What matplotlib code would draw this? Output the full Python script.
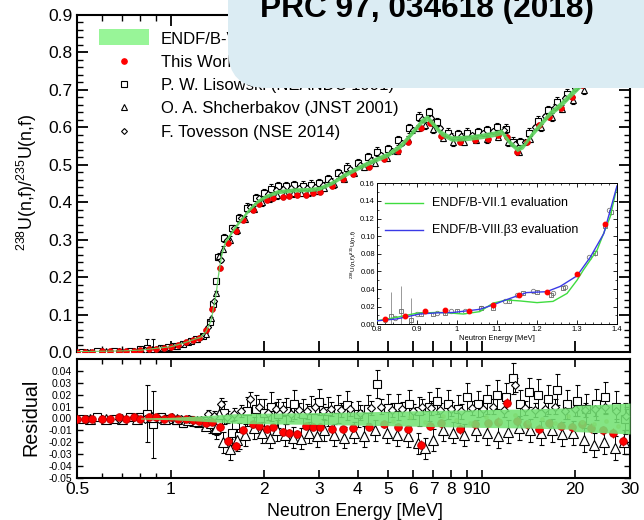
import numpy as np
import matplotlib
matplotlib.use('Agg')
import matplotlib.pyplot as plt
from matplotlib.patches import FancyBboxPatch, Rectangle
from matplotlib.lines import Line2D
from matplotlib.transforms import IdentityTransform
from matplotlib.ticker import (FixedLocator, FixedFormatter, MultipleLocator,
                               FormatStrFormatter, NullFormatter)

plt.rcParams['font.family'] = ['Liberation Sans', 'DejaVu Sans']
plt.rcParams['mathtext.fontset'] = 'custom'
plt.rcParams['mathtext.rm'] = 'Liberation Sans'
plt.rcParams['mathtext.it'] = 'Liberation Sans:italic'
plt.rcParams['mathtext.bf'] = 'Liberation Sans:bold'

# ---------------- data ----------------
# ENDF evaluation (band)
endf_E = [0.50, 0.60, 0.70, 0.80, 0.90, 1.00, 1.10, 1.20, 1.25, 1.30, 1.35, 1.40, 1.43, 1.46, 1.50,
          1.55, 1.60, 1.70, 1.80, 1.90, 2.00, 2.20, 2.50, 2.80, 3.00, 3.30, 3.60, 4.00, 4.50, 5.00,
          5.50, 6.00, 6.40, 6.70, 7.00, 7.40, 8.00, 9.00, 10.0, 11.0, 11.6, 12.3, 13.0, 13.6, 14.5,
          15.5, 16.5, 18.0, 19.0, 20.3, 22.0, 25.0, 28.0, 30.0]
endf_R = [0.001, 0.002, 0.003, 0.005, 0.010, 0.014, 0.024, 0.035, 0.040, 0.055, 0.085, 0.155, 0.215, 0.262, 0.295,
          0.312, 0.330, 0.358, 0.383, 0.402, 0.414, 0.428, 0.433, 0.434, 0.437, 0.452, 0.472, 0.492, 0.512, 0.528,
          0.552, 0.588, 0.616, 0.626, 0.608, 0.585, 0.570, 0.572, 0.577, 0.583, 0.588, 0.560, 0.542, 0.550, 0.582,
          0.610, 0.636, 0.662, 0.682, 0.706, 0.735, 0.770, 0.795, 0.810]
ENDF_REL_UNC = 0.013

# This Work
tw_E = [0.50, 0.53, 0.56, 0.60, 0.64, 0.68, 0.72, 0.76, 0.80, 0.85,
        0.90, 0.95, 1.00, 1.06, 1.12, 1.18, 1.23, 1.30, 1.36, 1.44,
        1.53, 1.62, 1.71, 1.84, 1.92, 2.04, 2.13, 2.29, 2.41, 2.55,
        2.72, 2.87, 3.02, 3.30, 3.59, 3.87, 4.34, 4.87, 5.40, 5.80,
        6.40, 6.80, 7.40, 8.50, 9.50, 10.5, 11.3, 12.1, 13.0, 14.0,
        15.3, 16.5, 18.0, 19.5, 21.0, 22.5, 24.5, 26.5, 28.4]
tw_R = [0.001, 0.001, 0.001, 0.002, 0.002, 0.003, 0.003, 0.004, 0.005, 0.007,
        0.009, 0.012, 0.014, 0.018, 0.026, 0.032, 0.037, 0.058, 0.115, 0.225,
        0.292, 0.323, 0.352, 0.380, 0.396, 0.405, 0.412, 0.415, 0.417, 0.418,
        0.420, 0.424, 0.428, 0.443, 0.462, 0.476, 0.495, 0.515, 0.538, 0.560,
        0.598, 0.612, 0.578, 0.562, 0.566, 0.570, 0.580, 0.575, 0.535, 0.562,
        0.605, 0.628, 0.652, 0.682, 0.712, 0.738, 0.758, 0.776, 0.788]
tw_res = [0.000, 0.000, 0.000, 0.000, 0.000, 0.001, 0.000, 0.001, 0.000, 0.001,
          0.001, 0.000, 0.001, 0.000, 0.000, -0.001, -0.002, -0.004, -0.003, -0.007,
          -0.019, -0.023, -0.010, -0.005, -0.006, -0.009, -0.007, -0.011, -0.012, -0.013,
          -0.006, -0.007, -0.007, -0.009, -0.009, -0.008, -0.007, -0.005, -0.007, -0.009,
          -0.022, -0.006, -0.004, -0.009, -0.005, -0.004, -0.003, 0.013, -0.002, -0.005,
          -0.009, -0.004, -0.006, -0.007, -0.005, -0.008, -0.010, -0.012, -0.019]
tw_err = [0.001, 0.001, 0.001, 0.001, 0.001, 0.001, 0.001, 0.001, 0.001, 0.001,
          0.001, 0.001, 0.001, 0.001, 0.001, 0.001, 0.001, 0.002, 0.002, 0.003,
          0.003, 0.003, 0.003, 0.003, 0.003, 0.003, 0.003, 0.003, 0.003, 0.003,
          0.003, 0.003, 0.003, 0.003, 0.003, 0.003, 0.003, 0.003, 0.003, 0.003,
          0.004, 0.004, 0.004, 0.004, 0.004, 0.004, 0.004, 0.004, 0.004, 0.004,
          0.004, 0.004, 0.004, 0.004, 0.004, 0.004, 0.004, 0.004, 0.004]

# P. W. Lisowski (squares)
sq_E = [0.52, 0.58, 0.66, 0.74, 0.80, 0.84, 0.88, 0.93, 0.98, 1.04,
        1.10, 1.16, 1.21, 1.27, 1.34, 1.37, 1.40, 1.42, 1.49, 1.58,
        1.66, 1.76, 1.88, 2.00, 2.10, 2.22, 2.35, 2.50, 2.66, 2.83,
        3.00, 3.20, 3.45, 3.70, 4.00, 4.30, 4.60, 5.00, 5.40, 5.85,
        6.30, 6.75, 7.20, 7.80, 8.40, 9.00, 9.70, 10.4, 11.2, 12.0,
        12.6, 13.3, 14.2, 15.2, 16.3, 17.5, 18.8, 20.2, 21.7, 23.3,
        25.0, 27.0, 29.0]
sq_R = [0.001, 0.002, 0.002, 0.004, 0.007, 0.012, 0.006, 0.011, 0.014, 0.017,
        0.022, 0.030, 0.035, 0.044, 0.080, 0.128, 0.190, 0.254, 0.305, 0.330,
        0.358, 0.385, 0.410, 0.425, 0.436, 0.442, 0.444, 0.446, 0.444, 0.447,
        0.452, 0.462, 0.478, 0.492, 0.505, 0.520, 0.535, 0.542, 0.565, 0.598,
        0.628, 0.640, 0.615, 0.585, 0.582, 0.586, 0.588, 0.592, 0.600, 0.596,
        0.562, 0.560, 0.585, 0.618, 0.645, 0.668, 0.690, 0.718, 0.745, 0.770,
        0.788, 0.805, 0.818]
sq_res = [0.000, 0.001, 0.000, 0.001, 0.001, 0.004, -0.005, 0.001, 0.000, -0.001,
          -0.004, -0.002, -0.003, -0.004, -0.006, -0.005, -0.010, -0.003, 0.005, -0.012,
          -0.015, 0.006, 0.008, 0.005, 0.010, 0.004, 0.006, 0.012, 0.004, 0.007,
          0.014, 0.006, 0.008, 0.011, 0.004, 0.008, 0.029, 0.009, 0.010, 0.012,
          0.006, 0.010, 0.015, 0.012, 0.008, 0.018, 0.012, 0.016, 0.020, 0.018,
          0.034, 0.012, 0.022, 0.020, 0.016, 0.024, 0.012, 0.015, 0.008, 0.012,
          0.018, 0.010, 0.000]
sq_err = [0.001, 0.001, 0.001, 0.001, 0.002, 0.024, 0.028, 0.002, 0.002, 0.003,
          0.003, 0.004, 0.004, 0.005, 0.006, 0.006, 0.007, 0.008, 0.010, 0.010,
          0.011, 0.012, 0.012, 0.011, 0.012, 0.012, 0.011, 0.012, 0.012, 0.012,
          0.011, 0.012, 0.012, 0.012, 0.011, 0.012, 0.012, 0.012, 0.011, 0.012,
          0.012, 0.012, 0.011, 0.012, 0.012, 0.012, 0.011, 0.012, 0.012, 0.012,
          0.013, 0.012, 0.012, 0.013, 0.012, 0.013, 0.012, 0.013, 0.013, 0.013,
          0.013, 0.013, 0.013]

# O. A. Shcherbakov (triangles)
tr_E = [0.55, 0.62, 0.70, 0.78, 0.87, 0.96, 1.05, 1.14, 1.22, 1.30,
        1.35, 1.40, 1.43, 1.47, 1.55, 1.64, 1.74, 1.85, 1.97, 2.08,
        2.20, 2.33, 2.47, 2.62, 2.78, 2.95, 3.12, 3.35, 3.60, 3.90,
        4.20, 4.55, 4.95, 5.35, 5.80, 6.25, 6.60, 7.00, 7.50, 8.10,
        8.80, 9.60, 10.4, 11.3, 12.2, 13.2, 14.3, 15.5, 16.8, 18.2,
        19.7, 21.3, 23.0, 24.8, 26.8, 28.8]
tr_R = [0.001, 0.002, 0.003, 0.004, 0.008, 0.012, 0.016, 0.026, 0.034, 0.048,
        0.090, 0.158, 0.256, 0.275, 0.300, 0.325, 0.355, 0.382, 0.400, 0.410,
        0.418, 0.422, 0.424, 0.425, 0.426, 0.430, 0.438, 0.448, 0.462, 0.478,
        0.494, 0.505, 0.518, 0.538, 0.568, 0.598, 0.605, 0.595, 0.572, 0.560,
        0.562, 0.566, 0.568, 0.575, 0.560, 0.535, 0.570, 0.600, 0.628, 0.650,
        0.672, 0.700, 0.728, 0.752, 0.772, 0.788]
tr_res = [0.000, 0.000, 0.000, 0.000, 0.001, 0.000, 0.000, -0.001, -0.002, -0.006,
          -0.004, -0.008, 0.004, -0.020, -0.026, -0.018, -0.014, -0.008, -0.012, -0.016,
          -0.010, -0.014, -0.016, -0.017, -0.012, -0.015, -0.010, -0.014, -0.016, -0.012,
          -0.015, -0.010, -0.012, -0.014, -0.015, -0.021, -0.025, -0.018, -0.010, -0.012,
          -0.014, -0.010, -0.012, -0.015, -0.011, -0.008, -0.010, -0.012, -0.010, -0.013,
          -0.012, -0.018, -0.022, -0.020, -0.025, -0.020]
tr_err = [0.001, 0.001, 0.001, 0.001, 0.001, 0.001, 0.001, 0.002, 0.002, 0.003,
          0.004, 0.006, 0.008, 0.009, 0.009, 0.009, 0.009, 0.009, 0.009, 0.009,
          0.009, 0.009, 0.009, 0.009, 0.009, 0.009, 0.009, 0.009, 0.009, 0.009,
          0.009, 0.009, 0.009, 0.009, 0.009, 0.009, 0.009, 0.009, 0.009, 0.009,
          0.009, 0.009, 0.010, 0.010, 0.010, 0.010, 0.010, 0.010, 0.010, 0.010,
          0.010, 0.010, 0.010, 0.010, 0.010, 0.010]

# F. Tovesson (diamonds)
di_E = [0.54, 0.60, 0.68, 0.76, 0.83, 0.92, 1.01, 1.08, 1.15, 1.25,
        1.32, 1.38, 1.45, 1.52, 1.60, 1.69, 1.80, 1.93, 2.06, 2.18,
        2.30, 2.43, 2.58, 2.74, 2.91, 3.08, 3.28, 3.52, 3.78, 4.06,
        4.40, 4.75, 5.15, 5.55, 6.00, 6.45, 6.90, 7.35, 7.95, 8.60,
        9.30, 10.1, 10.9, 11.8, 12.8, 13.8, 14.9, 16.0, 17.2, 18.5,
        20.0, 21.5, 23.2, 25.0, 27.0, 29.2]
di_R = [0.001, 0.002, 0.003, 0.004, 0.006, 0.011, 0.015, 0.022, 0.030, 0.041,
        0.066, 0.135, 0.245, 0.300, 0.330, 0.358, 0.388, 0.410, 0.422, 0.432,
        0.436, 0.438, 0.438, 0.439, 0.441, 0.447, 0.458, 0.474, 0.488, 0.500,
        0.514, 0.526, 0.537, 0.558, 0.592, 0.622, 0.625, 0.598, 0.578, 0.578,
        0.580, 0.584, 0.590, 0.594, 0.555, 0.560, 0.600, 0.630, 0.655, 0.678,
        0.705, 0.735, 0.760, 0.780, 0.798, 0.812]
di_res = [0.000, 0.000, 0.000, 0.001, 0.000, 0.000, 0.001, 0.000, 0.000, -0.001,
          0.004, 0.002, 0.012, 0.001, 0.004, 0.006, 0.016, 0.010, 0.005, 0.008,
          0.008, 0.004, 0.007, 0.006, 0.010, 0.006, 0.008, 0.007, 0.008, 0.005,
          0.009, 0.010, 0.007, 0.008, 0.006, 0.010, 0.009, 0.007, 0.008, 0.006,
          0.009, 0.008, 0.010, 0.007, 0.028, 0.009, 0.007, 0.008, 0.010, 0.006,
          0.008, 0.007, 0.008, 0.010, 0.006, 0.002]
di_err = [0.001, 0.001, 0.001, 0.001, 0.001, 0.001, 0.001, 0.001, 0.002, 0.002,
          0.003, 0.004, 0.005, 0.005, 0.005, 0.005, 0.006, 0.006, 0.006, 0.006,
          0.006, 0.006, 0.006, 0.006, 0.006, 0.006, 0.006, 0.006, 0.006, 0.006,
          0.006, 0.006, 0.006, 0.006, 0.006, 0.006, 0.006, 0.006, 0.006, 0.006,
          0.006, 0.006, 0.006, 0.006, 0.006, 0.006, 0.006, 0.006, 0.006, 0.006,
          0.006, 0.006, 0.006, 0.006, 0.006, 0.006]

# residual ENDF uncertainty band
band_E = [0.80, 1.00, 1.20, 1.40, 1.60, 2.00, 3.00, 5.00, 7.00, 10.0, 14.0, 19.5, 20.0, 25.0, 30.0]
band_half = [0.0005, 0.001, 0.002, 0.003, 0.004, 0.0045, 0.005, 0.006, 0.0068, 0.0075, 0.008, 0.009,
             0.011, 0.012, 0.013]
# faint points inside band
e8_E = [5.2, 5.9, 6.6, 7.5, 8.3, 9.2, 10.3, 11.5, 12.8, 14.1, 15.6, 17.2, 19.0, 21.0, 23.0, 25.2, 27.5]
e8_res = [-0.002, 0.001, -0.003, 0.002, -0.001, -0.004, 0.001, -0.002, 0.003, -0.003, 0.0, -0.004,
          0.002, -0.003, -0.005, -0.002, -0.006]

# inset data
in7_E = [0.80, 0.85, 0.898, 0.95, 0.974, 1.00, 1.016, 1.057, 1.09, 1.124, 1.158, 1.20, 1.24, 1.275,
         1.30, 1.316, 1.35, 1.383, 1.40]
in7_R = [0.004, 0.008, 0.0125, 0.0135, 0.0132, 0.0122, 0.0117, 0.0144, 0.024, 0.0276, 0.0265, 0.0246,
         0.026, 0.035, 0.050, 0.0616, 0.084, 0.122, 0.156]
in8_E = [0.80, 0.848, 0.907, 0.95, 0.99, 1.057, 1.09, 1.124, 1.174, 1.224, 1.258, 1.30, 1.333, 1.367, 1.40]
in8_R = [0.004, 0.006, 0.0117, 0.013, 0.0134, 0.017, 0.022, 0.028, 0.036, 0.037, 0.043, 0.055, 0.076,
         0.103, 0.157]
intw_E = [0.82, 0.87, 0.92, 0.97, 1.03, 1.09, 1.155, 1.225, 1.30, 1.37]
intw_R = [0.006, 0.009, 0.015, 0.016, 0.015, 0.022, 0.033, 0.037, 0.057, 0.114]
insq_E = [0.835, 0.86, 0.885, 0.91, 0.94, 0.97, 1.00, 1.06, 1.09, 1.13, 1.165, 1.20, 1.235, 1.265,
          1.345, 1.37, 1.385]
insq_R = [0.009, 0.015, 0.005, 0.012, 0.012, 0.013, 0.015, 0.019, 0.019, 0.027, 0.035, 0.037, 0.033,
          0.041, 0.081, 0.111, 0.127]
insq_err = [0.028, 0.028, 0.025, 0.002, 0.002, 0.002, 0.002, 0.002, 0.002, 0.002, 0.002, 0.002, 0.002,
            0.002, 0.003, 0.003, 0.003]
inci_E = [0.82, 0.845, 0.90, 0.95, 0.985, 1.02, 1.06, 1.12, 1.15, 1.19, 1.24, 1.27, 1.33, 1.38]
inci_R = [0.005, 0.007, 0.012, 0.013, 0.015, 0.015, 0.019, 0.027, 0.033, 0.038, 0.036, 0.042, 0.076, 0.130]

x_major = [0.5, 1, 2, 3, 4, 5, 6, 7, 8, 9, 10, 20, 30]
x_labels = ['0.5', '1', '2', '3', '4', '5', '6', '7', '8', '9', '10', '20', '30']
x_minor = [0.6, 0.7, 0.8, 0.9]
res_ticks = [-0.05, -0.04, -0.03, -0.02, -0.01, 0.0, 0.01, 0.02, 0.03, 0.04]
inset_xt = [0.8, 0.9, 1.0, 1.1, 1.2, 1.3, 1.4]
inset_xl = ['0.8', '0.9', '1', '1.1', '1.2', '1.3', '1.4']

legend_labels = ['ENDF/B-VIII.\u03b23', 'This Work', 'P. W. Lisowski (NEANDC 1991)',
                 'O. A. Shcherbakov (JNST 2001)', 'F. Tovesson (NSE 2014)']

# ---------------- figure ----------------
W, H = 644, 520
fig = plt.figure(figsize=(W / 100, H / 100), dpi=100)


def rect(x0, y0, x1, y1):
    return [x0 / W, 1 - y1 / H, (x1 - x0) / W, (y1 - y0) / H]


def fx(x):
    return x / W


def fy(y):
    return 1 - y / H


ax = fig.add_axes(rect(77, 15, 630, 352))
axr = fig.add_axes(rect(77, 359, 630, 478))
axi = fig.add_axes(rect(377, 183.3, 617, 324.3))

# ---- main panel ----
eE = np.array(endf_E)
eR = np.array(endf_R)
ax.errorbar(sq_E, sq_R, yerr=sq_err, fmt='s', ms=4.5, mfc='white', mec='black', mew=0.8,
            ecolor='black', elinewidth=0.7, capsize=1.5, capthick=0.7, zorder=3)
ax.errorbar(tr_E, tr_R, yerr=tr_err, fmt='^', ms=4.8, mfc='white', mec='black', mew=0.8,
            ecolor='black', elinewidth=0.7, capsize=1.5, capthick=0.7, zorder=3)
ax.errorbar(di_E, di_R, yerr=di_err, fmt='D', ms=3.2, mfc='white', mec='black', mew=0.8,
            ecolor='black', elinewidth=0.7, capsize=1.5, capthick=0.7, zorder=3)
ax.errorbar(tw_E, tw_R, yerr=tw_err, fmt='o', ms=4.2, mfc='red', mec='#d00000', mew=0.5,
            ecolor='#d00000', elinewidth=0.7, capsize=0, zorder=4)
ax.fill_between(eE, eR * (1 - ENDF_REL_UNC), eR * (1 + ENDF_REL_UNC), color='#5ed25e',
                alpha=0.9, lw=0, zorder=5)
ax.plot(eE, eR, color='#5ed25e', lw=0.8, alpha=0.9, zorder=5)

ax.set_xscale('log')
ax.set_xlim(0.5, 30)
ax.set_ylim(0, 0.9)
ax.xaxis.set_major_locator(FixedLocator(x_major))
ax.xaxis.set_minor_locator(FixedLocator(x_minor))
ax.xaxis.set_major_formatter(NullFormatter())
ax.xaxis.set_minor_formatter(NullFormatter())
ax.yaxis.set_major_locator(MultipleLocator(0.1))
ax.yaxis.set_minor_locator(MultipleLocator(0.02))
ax.yaxis.set_major_formatter(FormatStrFormatter('%.1f'))
ax.tick_params(which='both', direction='in', top=True, right=True)
ax.tick_params(which='major', length=8, width=1.3, labelsize=12.5, pad=3.5)
ax.tick_params(which='minor', length=4.5, width=1.0)
for s in ax.spines.values():
    s.set_linewidth(1.5)

# ---- residual panel ----
kw_open = dict(mfc='white', mec='black', mew=0.8, ecolor='black', elinewidth=0.7,
               capsize=1.8, capthick=0.7, zorder=3)
axr.errorbar(sq_E, sq_res, yerr=sq_err, fmt='s', ms=6, **kw_open)
axr.errorbar(tr_E, tr_res, yerr=tr_err, fmt='^', ms=6.5, **kw_open)
axr.errorbar(di_E, di_res, yerr=di_err, fmt='D', ms=4.2, **kw_open)
axr.errorbar(tw_E, tw_res, yerr=tw_err, fmt='o', ms=5.5, mfc='red', mec='#c00000', mew=0.6,
             ecolor='#e00000', elinewidth=0.8, capsize=0, zorder=4)
axr.plot(e8_E, e8_res, 'o', ms=2.5, color='#c0a048', alpha=0.6, zorder=5)
bh = np.array(band_half)
axr.fill_between(band_E, -bh, bh, color='#74e274', alpha=0.88, lw=0, zorder=6)

axr.set_xscale('log')
axr.set_xlim(0.5, 30)
axr.set_ylim(-0.05, 0.05)
axr.xaxis.set_major_locator(FixedLocator(x_major))
axr.xaxis.set_major_formatter(FixedFormatter(x_labels))
axr.xaxis.set_minor_locator(FixedLocator(x_minor))
axr.xaxis.set_minor_formatter(NullFormatter())
axr.yaxis.set_major_locator(FixedLocator(res_ticks))
axr.yaxis.set_major_formatter(FormatStrFormatter('%.2f'))
axr.tick_params(which='both', direction='in', top=True, right=True)
axr.tick_params(axis='x', which='major', length=6, width=1.2, labelsize=12.5, pad=3)
axr.tick_params(axis='x', which='minor', length=3.5, width=1.0)
axr.tick_params(axis='y', which='major', length=4, width=1.0, labelsize=7.5, pad=3.5)
for s in axr.spines.values():
    s.set_linewidth(1.5)

# ---- inset ----
axi.set_facecolor('white')
axi.errorbar(insq_E, insq_R, yerr=insq_err, fmt='s', ms=3.2, mfc='none', mec='#666666', mew=0.6,
             ecolor='#999999', elinewidth=0.7, capsize=0, zorder=3)
axi.plot(inci_E, inci_R, 'o', ms=3.2, mfc='none', mec='#777777', mew=0.6, zorder=3)
axi.plot(in7_E, in7_R, color='#3fdc3f', lw=1.0, zorder=4)
axi.plot(in8_E, in8_R, color='#3a3ae6', lw=1.0, zorder=4)
axi.plot(intw_E, intw_R, 'o', ms=3.2, color='red', zorder=5)
axi.set_xlim(0.8, 1.4)
axi.set_ylim(0, 0.16)
axi.xaxis.set_major_locator(FixedLocator(inset_xt))
axi.xaxis.set_major_formatter(FixedFormatter(inset_xl))
axi.xaxis.set_minor_locator(MultipleLocator(0.02))
axi.yaxis.set_major_locator(MultipleLocator(0.02))
axi.yaxis.set_minor_locator(MultipleLocator(0.01))
axi.yaxis.set_major_formatter(FormatStrFormatter('%.2f'))
axi.tick_params(which='both', direction='in', top=True, right=True, labelsize=5.5, pad=1.5)
axi.tick_params(which='major', length=3, width=0.6)
axi.tick_params(which='minor', length=1.5, width=0.5)
for s in axi.spines.values():
    s.set_linewidth(0.7)
axi.set_xlabel('Neutron Energy [MeV]', fontsize=5.5, labelpad=1)
axi.set_ylabel('$^{238}$U(n,f)/$^{235}$U(n,f)', fontsize=4.5, labelpad=1)
axi.plot([0.033, 0.192], [0.858, 0.858], transform=axi.transAxes, color='#3fdc3f', lw=1.0)
axi.plot([0.033, 0.192], [0.669, 0.669], transform=axi.transAxes, color='#3a3ae6', lw=1.0)
axi.text(0.229, 0.858, 'ENDF/B-VII.1 evaluation', transform=axi.transAxes, fontsize=9,
         va='center', ha='left')
axi.text(0.229, 0.669, 'ENDF/B-VIII.\u03b23 evaluation', transform=axi.transAxes, fontsize=9,
         va='center', ha='left')

# ---- axis labels ----
fig.text(fx(27), fy(182), '$^{238}$U(n,f)/$^{235}$U(n,f)', rotation=90, ha='center', va='center',
         fontsize=12.8)
fig.text(fx(31), fy(417), 'Residual', rotation=90, ha='center', va='center', fontsize=14.2)
fig.text(fx(355), fy(516), 'Neutron Energy [MeV]', ha='center', va='baseline', fontsize=12.8)

# ---- legend (manual) ----
fig.add_artist(Rectangle((fx(99), fy(45)), 50 / W, 16 / H, transform=fig.transFigure,
                         facecolor='#98f598', edgecolor='none', zorder=8))
leg_markers = [('o', dict(mfc='red', mec='red', ms=3.8)),
               ('s', dict(mfc='white', mec='black', ms=4.0, mew=0.8)),
               ('^', dict(mfc='white', mec='black', ms=4.3, mew=0.8)),
               ('D', dict(mfc='white', mec='black', ms=3.0, mew=0.8))]
marker_y = [61, 84, 107.5, 131]
for (m, kw), yy in zip(leg_markers, marker_y):
    fig.add_artist(Line2D([fx(124)], [fy(yy)], marker=m, linestyle='none',
                          transform=fig.transFigure, zorder=8, **kw))
base_y = [44, 67, 90, 113.5, 137]
for lab, yy in zip(legend_labels, base_y):
    fig.text(fx(161), fy(yy), lab, ha='left', va='baseline', fontsize=12, zorder=8)

# ---- overlay box ----
box = FancyBboxPatch((228, H - 88), 600, 300, boxstyle='round,pad=0,rounding_size=38',
                     transform=IdentityTransform(), facecolor='#dbecf3', edgecolor='none', zorder=20)
fig.add_artist(box)
fig.text(fx(427), fy(17), 'PRC 97, 034618 (2018)', ha='center', va='baseline', fontsize=22.8,
         fontweight='bold', zorder=21)

fig.savefig('out.png', dpi=100)
